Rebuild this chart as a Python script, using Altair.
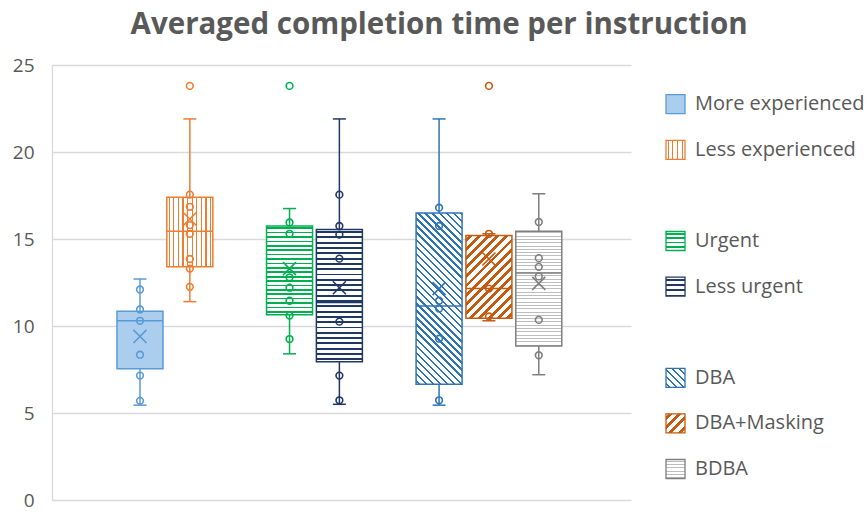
import math
import altair as alt
import pandas as pd

# ---------------- data ----------------
SERIES = ["More experienced", "Less experienced", "Urgent", "Less urgent",
          "DBA", "DBA+Masking", "BDBA"]
SLOT = [0, 1, 3, 4, 6, 7, 8]
COLORS = ["#5B9BD5", "#ED7D31", "#00B050", "#203864", "#2E75B6", "#C55A11", "#7F7F7F"]

W_LOW = [5.45, 11.4, 8.4, 5.5, 5.45, 10.3, 7.2]
Q1 = [7.55, 13.4, 10.65, 7.95, 6.65, 10.45, 8.85]
MEDIAN = [10.3, 15.45, 12.8, 11.35, 11.15, 12.15, 13.05]
Q3 = [10.85, 17.4, 15.75, 15.55, 16.5, 15.2, 15.45]
W_HIGH = [12.7, 21.9, 16.75, 21.9, 21.9, 15.3, 17.6]
MEAN = [9.4, 16.15, 13.3, 12.2, 12.15, 13.85, 12.45]

PTS_MORE_EXP = [12.1, 10.95, 10.3, 8.35, 7.15, 5.7]
PTS_LESS_EXP = [17.55, 16.85, 15.8, 15.3, 13.85, 13.3, 12.25]
PTS_URGENT = [15.95, 15.3, 12.8, 12.2, 11.45, 10.6, 9.25]
PTS_LESS_URGENT = [17.55, 15.75, 15.25, 13.87, 10.25, 7.15, 5.73]
PTS_DBA = [16.8, 15.75, 11.45, 11.0, 9.27, 5.73]
PTS_DBA_MASK = [15.3, 12.15, 10.55]
PTS_BDBA = [15.98, 13.9, 13.4, 12.85, 10.35, 8.32]

OUTLIER_SERIES = ["Less experienced", "Urgent", "DBA+Masking"]
OUTLIER_VALUES = [23.8, 23.8, 23.8]

Y_TICKS = [0, 5, 10, 15, 20, 25]
TITLE = "Averaged completion time per instruction"

# ---------------- styles ----------------
PLOT_W, PLOT_H = 579, 435
Y_MAX = 25
BOX_W = 46
SW_SIZE = 19
TEXT = "#595959"
GRID = "#d9d9d9"
FONT = "Open Sans"

# pattern per series: (kind, period px, line px, line colour or None=series colour)
PATTERNS = [("solid", 0, 0, "#abcdee"),
            ("v", 4.6, 1.2, None),
            ("h", 4.4, 1.6, None),
            ("h", 5.3, 1.9, None),
            ("back", 5.0, 1.7, None),
            ("fwd", 6.5, 2.8, None),
            ("h", 3.3, 1.0, "#bdbdbd")]


def stripe_stops(color, bg, length, period, line):
    stops = [{"offset": 0, "color": bg}]
    pos = (period - line) / 2.0
    while pos < length:
        a = round(max(pos / length, 0), 4)
        b = round(min((pos + line) / length, 1), 4)
        stops += [{"offset": a, "color": bg}, {"offset": a, "color": color},
                  {"offset": b, "color": color}, {"offset": b, "color": bg}]
        pos += period
    stops.append({"offset": 1, "color": bg})
    return stops


def pattern_fill(pat, color, w, h):
    kind, period, line, lc = pat
    lc = lc or color
    if kind == "solid":
        return lc
    if kind == "h":
        return {"gradient": "linear", "x1": 0, "y1": 0, "x2": 0, "y2": 1,
                "stops": stripe_stops(lc, "white", h, period, line)}
    if kind == "v":
        return {"gradient": "linear", "x1": 0, "y1": 0, "x2": 1, "y2": 0,
                "stops": stripe_stops(lc, "white", w, period, line)}
    r = h / w
    k = (1 + r) / (1 + r * r)
    L = (w + h) / math.sqrt(2)
    if kind == "back":
        return {"gradient": "linear", "x1": 0, "y1": 1, "x2": round(k, 5), "y2": round(1 - k * r, 5),
                "stops": stripe_stops(lc, "white", L, period, line)}
    return {"gradient": "linear", "x1": 0, "y1": 0, "x2": round(k, 5), "y2": round(k * r, 5),
            "stops": stripe_stops(lc, "white", L, period, line)}


# ---------------- tables ----------------
stats = pd.DataFrame({"series": SERIES, "slot": SLOT, "low": W_LOW, "q1": Q1,
                      "median": MEDIAN, "q3": Q3, "high": W_HIGH, "mean": MEAN})
slot_of = dict(zip(SERIES, SLOT))
rows = []
for s, vals in zip(SERIES, [PTS_MORE_EXP, PTS_LESS_EXP, PTS_URGENT, PTS_LESS_URGENT,
                            PTS_DBA, PTS_DBA_MASK, PTS_BDBA]):
    for v in vals:
        rows.append({"series": s, "slot": slot_of[s], "value": v})
pts = pd.DataFrame(rows)
outl = pd.DataFrame({"series": OUTLIER_SERIES, "value": OUTLIER_VALUES,
                     "slot": [slot_of[s] for s in OUTLIER_SERIES]})

# ---------------- encodings ----------------
x_enc = alt.X("slot:Q", scale=alt.Scale(domain=[-1.765, 9.85], nice=False, zero=False), axis=None)
y_scale = alt.Scale(domain=[0, Y_MAX], nice=False, zero=True)
y_axis = alt.Axis(values=Y_TICKS, grid=True, gridColor=GRID, gridWidth=1.3,
                  domainColor=GRID, domainWidth=1.3, ticks=False, labelFontSize=19,
                  labelColor=TEXT, labelPadding=18, title=None, labelFont=FONT)
col = alt.Color("series:N", scale=alt.Scale(domain=SERIES, range=COLORS), legend=None)


def Y(f):
    return alt.Y(f, scale=y_scale, axis=y_axis)


whisk = alt.Chart(stats).mark_rule(strokeWidth=1.5).encode(x=x_enc, y=Y("low:Q"), y2="high:Q", color=col)
cap_lo = alt.Chart(stats).mark_rule(strokeWidth=1.5, xOffset=-6.5, x2Offset=6.5).encode(
    x=x_enc, x2="slot:Q", y=Y("low:Q"), color=col)
cap_hi = alt.Chart(stats).mark_rule(strokeWidth=1.5, xOffset=-6.5, x2Offset=6.5).encode(
    x=x_enc, x2="slot:Q", y=Y("high:Q"), color=col)

boxes = []
for i, s in enumerate(SERIES):
    h_px = (Q3[i] - Q1[i]) * PLOT_H / Y_MAX
    fill = pattern_fill(PATTERNS[i], COLORS[i], BOX_W, h_px)
    boxes.append(
        alt.Chart(stats).transform_filter(alt.datum.series == s).mark_rect(
            xOffset=-BOX_W / 2, x2Offset=BOX_W / 2, fill=fill, stroke=COLORS[i],
            strokeWidth=1.5).encode(x=x_enc, x2="slot:Q", y=Y("q1:Q"), y2="q3:Q"))

med = alt.Chart(stats).mark_rule(strokeWidth=1.5, xOffset=-BOX_W / 2, x2Offset=BOX_W / 2).encode(
    x=x_enc, x2="slot:Q", y=Y("median:Q"), color=col)
points = alt.Chart(pts).mark_point(shape="circle", filled=False, size=45, strokeWidth=1.6, opacity=1).encode(
    x=x_enc, y=Y("value:Q"), color=col)
outs = alt.Chart(outl).mark_point(shape="circle", filled=False, size=45, strokeWidth=1.6, opacity=1).encode(
    x=x_enc, y=Y("value:Q"), color=col)
means = alt.Chart(stats).mark_point(shape="M-1,-1L1,1M-1,1L1,-1", filled=False, size=170,
                                    strokeWidth=1.6, opacity=1).encode(
    x=x_enc, y=Y("mean:Q"), color=col)

main = alt.layer(whisk, cap_lo, cap_hi, *boxes, med, points, outs, means).properties(
    width=PLOT_W, height=PLOT_H)

# ---------------- legend panel ----------------
leg_y = alt.Y("slot:Q", scale=alt.Scale(domain=[-0.86, 8.68], nice=False, zero=False, reverse=True), axis=None)
swatches = []
for i, s in enumerate(SERIES):
    fill = pattern_fill(PATTERNS[i], COLORS[i], SW_SIZE, SW_SIZE)
    swatches.append(
        alt.Chart(stats).transform_filter(alt.datum.series == s).mark_rect(
            yOffset=-SW_SIZE / 2, y2Offset=SW_SIZE / 2, fill=fill, stroke=COLORS[i],
            strokeWidth=1.3).encode(y=leg_y, y2="slot:Q", x=alt.value(15), x2=alt.value(15 + SW_SIZE)))
labels = alt.Chart(stats).mark_text(align="left", baseline="middle", fontSize=20, color=TEXT, font=FONT).encode(
    x=alt.value(44), y=leg_y, text="series:N")
legend = alt.layer(*swatches, labels).properties(width=215, height=PLOT_H)

chart = alt.hconcat(main, legend, spacing=20).properties(
    title=alt.TitleParams(TITLE, fontSize=29.5, fontWeight="bold", color=TEXT, font=FONT,
                          anchor="middle", offset=16),
    padding={"left": 12, "top": 9, "right": 0, "bottom": 0},
    background="white",
).configure(font=FONT).configure_view(strokeWidth=0, stroke="transparent")

chart.save("out.html", embed_options={"renderer": "svg", "actions": False})
